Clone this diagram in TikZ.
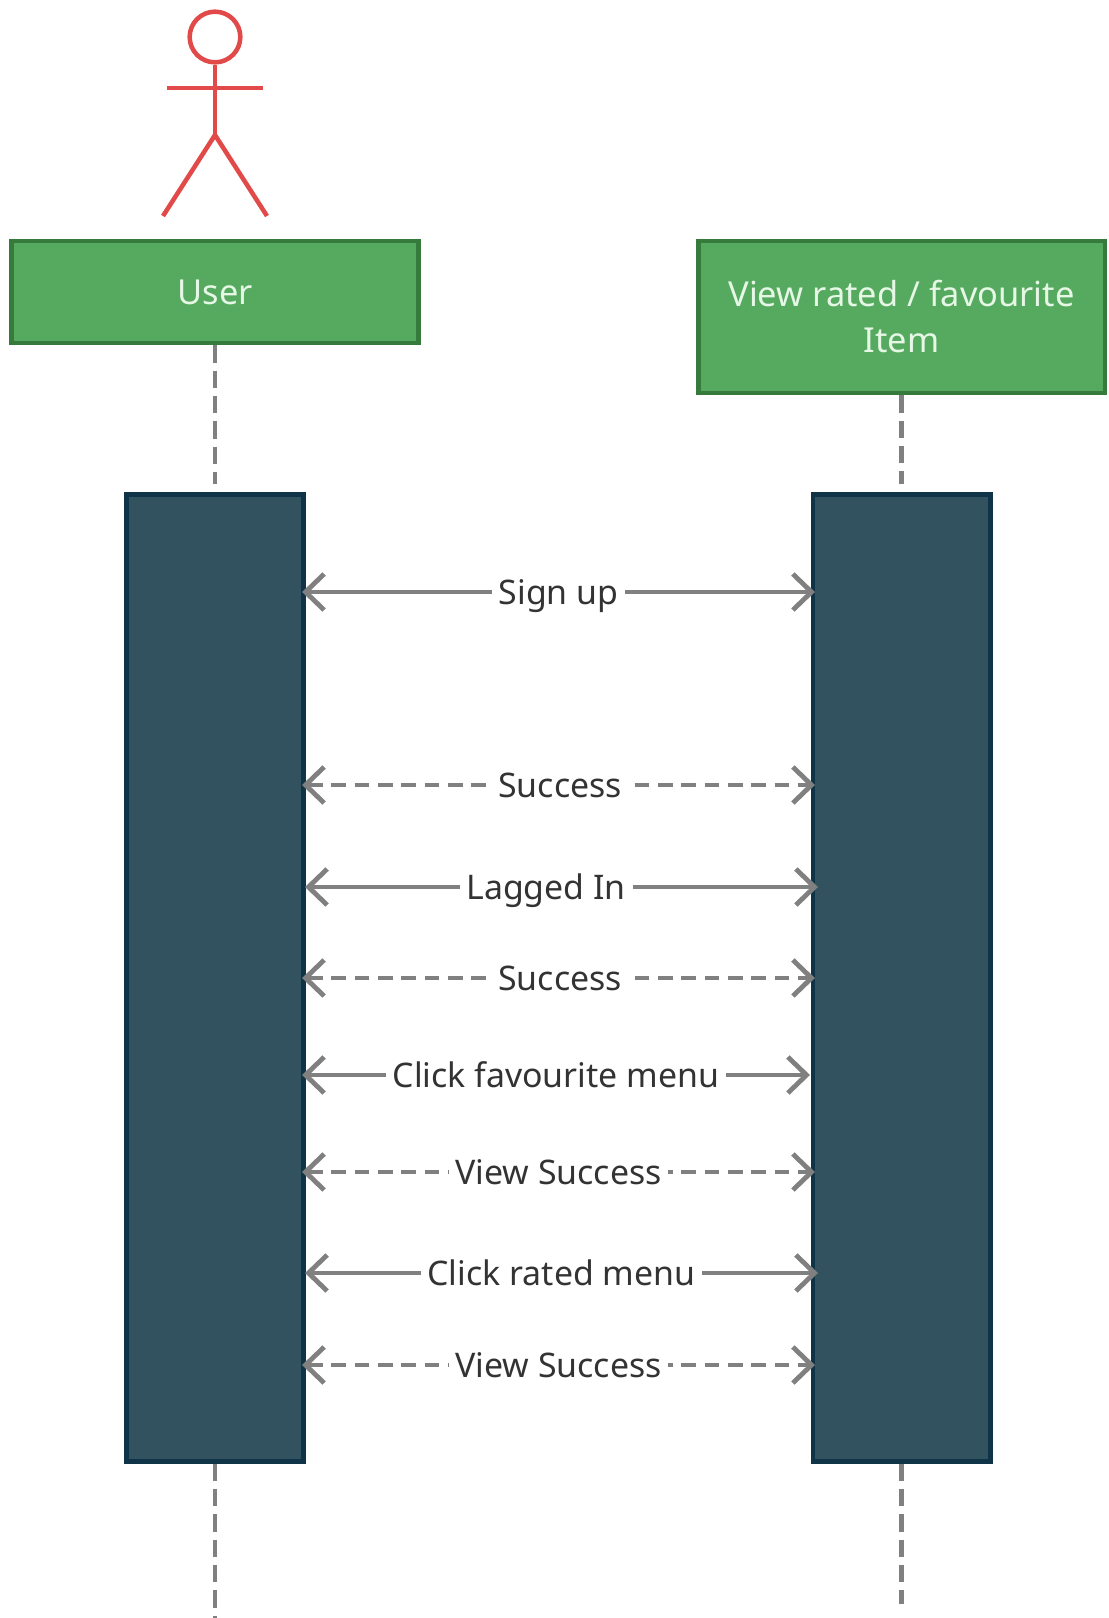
\documentclass[tikz,border=0pt]{standalone}
\usepackage{fontspec}
\setmainfont{Noto Sans}
\usetikzlibrary{arrows.meta}
\definecolor{BoxGreen}{HTML}{55AA60}
\definecolor{BoxEdge}{HTML}{367A3C}
\definecolor{BarBlue}{HTML}{33525F}
\definecolor{BarEdge}{HTML}{0F3347}
\definecolor{ActorRed}{HTML}{E24A4A}
\definecolor{LineGray}{HTML}{808080}
\definecolor{TextGray}{HTML}{333333}
\definecolor{BoxText}{HTML}{E6F7E6}

\begin{document}
\begin{tikzpicture}[x=0.75pt, y=-0.75pt,
    actor/.style={draw=ActorRed, line width=3.4pt},
    lane/.style={draw=BoxEdge, fill=BoxGreen, line width=3.5pt, text=BoxText, minimum width=305pt, align=center, font=\fontsize{25.8}{34.5}\selectfont},
    bar/.style={draw=BarEdge, fill=BarBlue, line width=3.5pt, minimum width=133pt, minimum height=725pt},
    lifeline/.style={draw=LineGray, line width=3.4pt, dash pattern=on 13pt off 6pt},
    msg/.style={draw=LineGray, line width=3.6pt, {Straight Barb[length=14pt,width=27pt]}-{Straight Barb[length=14pt,width=27pt]}},
    reply/.style={msg, dash pattern=on 11pt off 6.5pt},
    lbl/.style={fill=white, text=TextGray, inner sep=5pt, text height=21pt, text depth=2pt, font=\fontsize{25.4}{30}\selectfont}]
    \useasboundingbox (0,0) rectangle (1108,1618);

    \node[lane, minimum height=76.5pt] (user) at (215,292) {User};
    \node[lane, minimum height=114pt] (view) at (901.5,317) {View rated / favourite\\Item};
    \node[bar] (userbar) at (215,978) {};
    \node[bar] (viewbar) at (901.5,978) {};

    % actor
    \node[circle, draw=ActorRed, line width=3.4pt, minimum size=38pt, inner sep=0pt] (head) at (215,37) {};
    \coordinate (hip) at (215,135);
    \coordinate (armleft) at (167,88);
    \coordinate (armright) at (263,88);
    \coordinate (footleft) at (163,216);
    \coordinate (footright) at (267,216);
    \draw[actor] (head) -- (hip);
    \draw[actor] (armleft) -- (armright);
    \draw[actor] (footleft) -- (hip) -- (footright);

    % lifelines
    \coordinate (userend) at (215,1618);
    \coordinate (viewend) at (901.5,1604);
    \draw[lifeline, shorten >=6pt] (user) -- (userbar);
    \draw[lifeline, shorten >=6pt] (view) -- (viewbar);
    \draw[lifeline] (userbar) -- (userend);
    \draw[lifeline] (viewbar) -- (viewend);

    % messages
    \coordinate (signl) at (302,592);
    \coordinate (signr) at (815,592);
    \coordinate (okal) at (302,785);
    \coordinate (okar) at (815,785);
    \coordinate (logl) at (305,887);
    \coordinate (logr) at (818,887);
    \coordinate (okbl) at (302,978);
    \coordinate (okbr) at (815,978);
    \coordinate (favl) at (302,1075);
    \coordinate (favr) at (810,1075);
    \coordinate (seeal) at (302,1172);
    \coordinate (seear) at (815,1172);
    \coordinate (ratel) at (305,1273);
    \coordinate (rater) at (818,1273);
    \coordinate (seebl) at (302,1365);
    \coordinate (seebr) at (815,1365);

    \draw[msg] (signl) -- node[lbl] (signtxt) {Sign up} (signr);
    \draw[reply] (okal) -- node[lbl, pos=0.503] (okatxt) {Success} (okar);
    \draw[msg] (logl) -- node[lbl, pos=0.47] (logtxt) {Lagged In} (logr);
    \draw[reply] (okbl) -- node[lbl, pos=0.503] (okbtxt) {Success} (okbr);
    \draw[msg] (favl) -- node[lbl] (favtxt) {Click favourite menu} (favr);
    \draw[reply] (seeal) -- node[lbl] (seeatxt) {View Success} (seear);
    \draw[msg] (ratel) -- node[lbl] (ratetxt) {Click rated menu} (rater);
    \draw[reply] (seebl) -- node[lbl] (seebtxt) {View Success} (seebr);
\end{tikzpicture}
\end{document}
